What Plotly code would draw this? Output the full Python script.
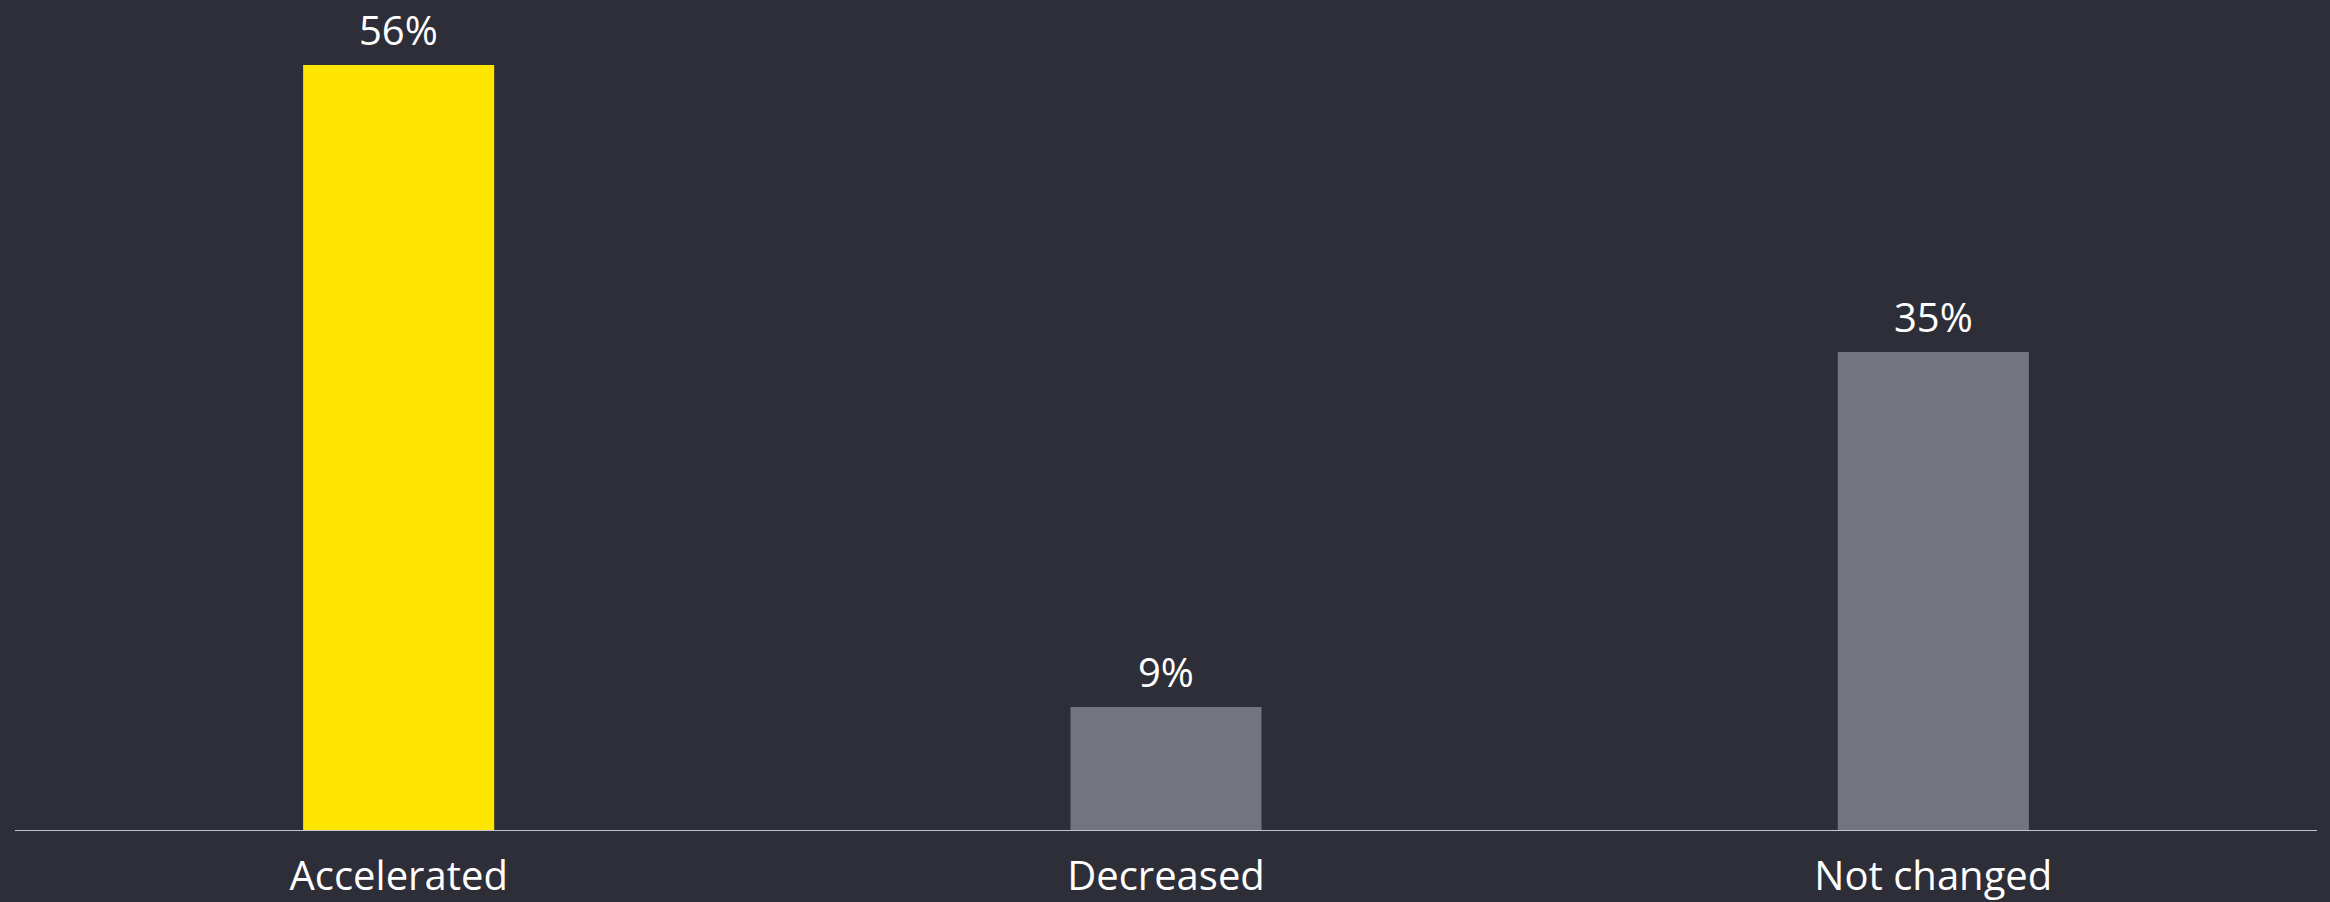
import plotly.graph_objects as go

# データ
categories = ['Accelerated', 'Decreased', 'Not changed']
values = [56, 9, 35]
value_labels = ['56%', '9%', '35%']
bar_colors = ['#ffe600', '#747480', '#747480']

bg = '#2e2e38'

fig = go.Figure()
fig.add_trace(go.Bar(
    x=categories, y=values,
    marker={'color': bar_colors, 'line': {'width': 0}},
    width=0.249,
    hoverinfo='none',
))

# 値ラベル
annotations = []
for c, v, t in zip(categories, values, value_labels):
    annotations.append(dict(
        x=c, y=v, xref='x', yref='y',
        text=t, showarrow=False,
        yanchor='bottom', yshift=7, borderpad=0,
        font={'size': 40, 'color': '#ffffff', 'family': 'Open Sans'},
    ))

fig.update_layout(
    width=2330, height=902,
    paper_bgcolor=bg, plot_bgcolor=bg,
    margin={'l': 15, 'r': 13, 't': 0, 'b': 72},
    showlegend=False,
    bargap=0.75,
    annotations=annotations,
    font={'family': 'Open Sans', 'color': '#ffffff'},
)
fig.update_xaxes(
    showline=True, linecolor='#c4c4cd', linewidth=1,
    showgrid=False, ticks='', ticklabelstandoff=11, automargin=False,
    tickfont={'size': 40, 'color': '#ffffff', 'family': 'Open Sans'},
)
fig.update_yaxes(
    range=[0, 830 / 13.66], visible=False, showgrid=False, zeroline=False,
    automargin=False,
)

# ページの余白を消す
fig.write_html('out.html', config={'displayModeBar': False},
               post_script="document.body.style.margin='0';document.body.style.background='%s';" % bg)
